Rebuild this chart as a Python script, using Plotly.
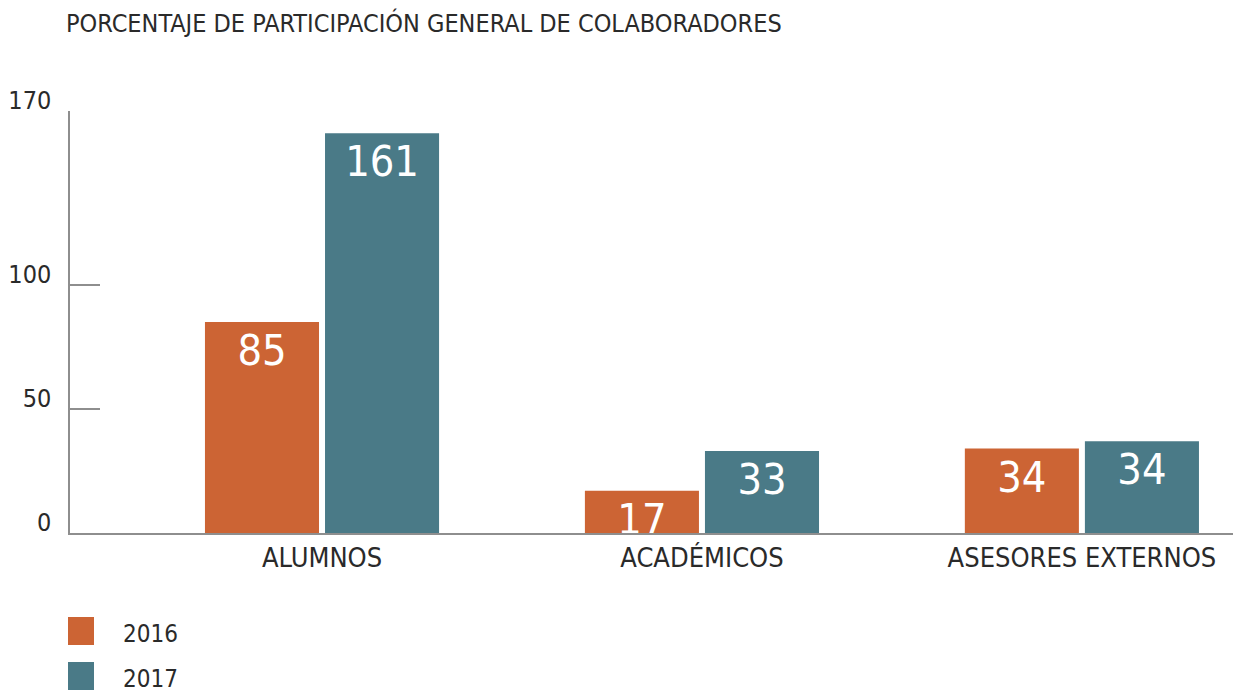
import plotly.graph_objects as go

# ---- data ----
categories = ["ALUMNOS", "ACADÉMICOS", "ASESORES EXTERNOS"]
series_names = ["2016", "2017"]
values_2016 = [85, 17, 34]
values_2017 = [161, 33, 37]
labels_2016 = ["85", "17", "34"]
labels_2017 = ["161", "33", "34"]
y_tickvals = [0, 50, 100, 170]
y_ticktext = ["0", "50", "100", "170"]
title_text = "PORCENTAJE DE PARTICIPACIÓN GENERAL DE COLABORADORES"

colors = ["#CC6434", "#4A7A87"]
FONT = "DejaVu Sans Condensed, Liberation Sans Narrow, Roboto, sans-serif"
AXIS_COLOR = "#8e8e8e"
TEXT_COLOR = "#2a2a2a"

W, H = 1233, 692
ML, MR, MT, MB = 70, 0, 111, 159
PW, PH = W - ML - MR, H - MT - MB


def px_to_paper_x(px):
    return (px - ML) / PW


def px_to_paper_y(py):
    return (H - MB - py) / PH


fig = go.Figure()
for name, vals, labs, col in [
    (series_names[0], values_2016, labels_2016, colors[0]),
    (series_names[1], values_2017, labels_2017, colors[1]),
]:
    fig.add_trace(go.Bar(
        name=name, x=categories, y=vals, text=labs,
        marker=dict(color=col, line=dict(width=0)),
        textposition="inside", insidetextanchor="end",
        constraintext="none", textangle=0,
        textfont=dict(family=FONT, size=43, color="white"),
        showlegend=False,
    ))

# legend drawn as swatches + labels (larger than plotly's fixed legend symbol)
legend_rows = [(617, 645), (662, 690)]
shapes = []
annotations = []
for (top, bottom), name, col in zip(legend_rows, series_names, colors):
    shapes.append(dict(
        type="rect", xref="paper", yref="paper",
        x0=px_to_paper_x(68), x1=px_to_paper_x(94),
        y0=px_to_paper_y(bottom), y1=px_to_paper_y(top),
        fillcolor=col, line=dict(width=0),
    ))
    annotations.append(dict(
        text=name, xref="paper", yref="paper",
        x=px_to_paper_x(121), y=px_to_paper_y((top + bottom) / 2 + 3),
        xanchor="left", yanchor="middle", showarrow=False,
        font=dict(family=FONT, size=24, color=TEXT_COLOR),
    ))

fig.update_layout(
    width=W, height=H,
    margin=dict(l=ML, r=MR, t=MT, b=MB, pad=0),
    paper_bgcolor="white", plot_bgcolor="white",
    barmode="group", bargap=0.368, bargroupgap=0.05,
    font=dict(family=FONT, color=TEXT_COLOR),
    title=dict(
        text=title_text, xref="container", yref="container",
        x=66 / W, xanchor="left", y=1 - 23 / H, yanchor="middle",
        font=dict(family=FONT, size=25, color=TEXT_COLOR),
    ),
    xaxis=dict(
        range=[-0.6633, 2.3977], showgrid=False, zeroline=False,
        showline=True, linecolor=AXIS_COLOR, linewidth=1.5,
        ticks="", tickfont=dict(family=FONT, size=27, color=TEXT_COLOR),
        ticklabelstandoff=0,
    ),
    yaxis=dict(
        range=[0, 170], showgrid=False, zeroline=False,
        showline=True, linecolor=AXIS_COLOR, linewidth=1.5,
        ticks="inside", ticklen=30, tickwidth=1.5, tickcolor=AXIS_COLOR,
        tickvals=y_tickvals, ticktext=y_ticktext,
        tickfont=dict(family=FONT, size=25, color=TEXT_COLOR),
        ticklabelshift=-11, ticklabelstandoff=12,
    ),
    shapes=shapes, annotations=annotations,
)

fig.write_html(
    "out.html",
    config={"displayModeBar": False},
    post_script="document.body.style.margin='0';document.body.style.overflow='hidden';",
)
